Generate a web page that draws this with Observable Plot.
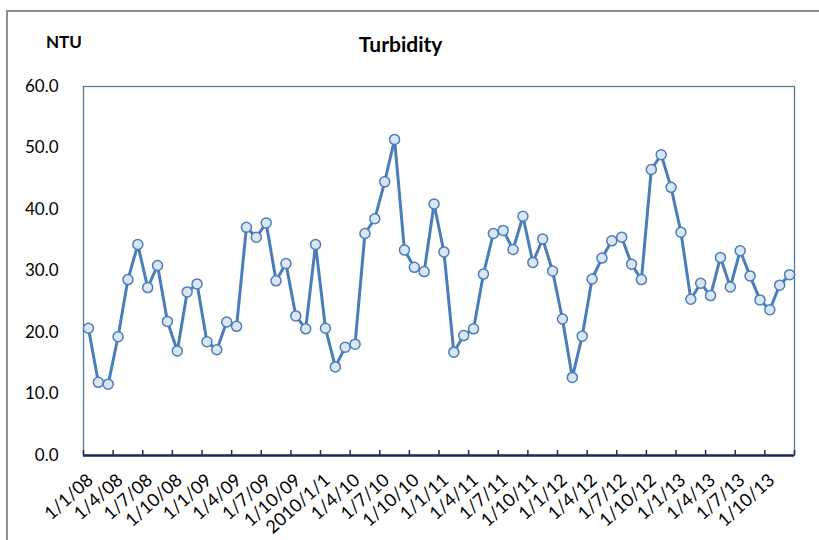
<!DOCTYPE html>
<html>
<head>
<meta charset="utf-8">
<script src="https://cdn.jsdelivr.net/npm/d3@7"></script>
<script src="https://cdn.jsdelivr.net/npm/@observablehq/plot@0.6"></script>
<style>
  html, body { margin: 0; padding: 0; background: #fff; overflow: hidden; }
  #wrap { position: relative; width: 819px; height: 540px; font-family: Lato, "Open Sans", sans-serif; }
  #border { position: absolute; left: 6px; top: 10px; width: 830px; height: 560px; border: 2px solid #8f8f8f; box-sizing: border-box; }
  #title { position: absolute; left: 0; width: 801px; top: 31px; text-align: center; font-weight: bold; font-size: 21px; color: #000; }
  #unit { position: absolute; left: 46px; top: 31px; font-weight: bold; font-size: 17px; color: #000; }
  #chart { position: absolute; left: 0; top: 0; }
</style>
</head>
<body>
<div id="wrap">
  <div id="border"></div>
  <div id="chart"></div>
  <div id="unit">NTU</div>
  <div id="title">Turbidity</div>
</div>
<script>
// Monthly turbidity (NTU), Jan 2008 – Dec 2013
const turbidity = [
  20.7, 11.9, 11.6, 19.3, 28.6, 34.3, 27.3, 30.9, 21.8, 17.0, 26.6, 27.9,
  18.5, 17.2, 21.7, 21.0, 37.1, 35.5, 37.8, 28.4, 31.2, 22.7, 20.6, 34.3,
  20.7, 14.4, 17.6, 18.1, 36.1, 38.5, 44.5, 51.4, 33.4, 30.6, 29.9, 40.9,
  33.1, 16.8, 19.5, 20.6, 29.5, 36.1, 36.6, 33.5, 38.9, 31.4, 35.2, 30.0,
  22.2, 12.7, 19.4, 28.7, 32.1, 34.9, 35.5, 31.1, 28.6, 46.5, 48.9, 43.6,
  36.3, 25.4, 28.0, 26.0, 32.2, 27.4, 33.3, 29.2, 25.3, 23.7, 27.7, 29.4
];
const xTickLabels = [
  "1/1/08", "1/4/08", "1/7/08", "1/10/08", "1/1/09", "1/4/09", "1/7/09", "1/10/09",
  "2010/1/1", "1/4/10", "1/7/10", "1/10/10", "1/1/11", "1/4/11", "1/7/11", "1/10/11",
  "1/1/12", "1/4/12", "1/7/12", "1/10/12", "1/1/13", "1/4/13", "1/7/13", "1/10/13"
];
const yTicks = [0, 10, 20, 30, 40, 50, 60];

const labelIdx = xTickLabels.map((_, k) => k * 3);
const boundaries = d3.range(0, turbidity.length + 1, 3).map(i => i - 0.5);
const data = turbidity.map((v, i) => ({i, v}));

const lineColor = "#4a7ebb";

const chart = Plot.plot({
  width: 819,
  height: 540,
  marginLeft: 83,
  marginRight: 25,
  marginTop: 86,
  marginBottom: 85,
  style: { fontFamily: "Lato, 'Open Sans', sans-serif", background: "transparent", color: "#000" },
  x: { type: "linear", domain: [-0.5, turbidity.length - 0.5] },
  y: { domain: [0, 60] },
  marks: [
    Plot.frame({ stroke: "#4f8095", strokeWidth: 1.3 }),
    Plot.axisY({ ticks: yTicks, tickFormat: d => d.toFixed(1), tickSize: 0, tickPadding: 25, fontSize: 17, label: null }),
    Plot.axisX({ ticks: boundaries, tickSize: -5, tickFormat: () => "", stroke: "#1b2a5e", strokeWidth: 1.5, label: null }),
    Plot.axisX({ ticks: labelIdx, tickSize: 0, tickPadding: 22, tickRotate: -42, fontSize: 18,
                 tickFormat: i => xTickLabels[i / 3], label: null, dx: 2 }),
    Plot.ruleY([0], { stroke: "#1b2a5e", strokeWidth: 2.5 }),
    Plot.line(data, { x: "i", y: "v", stroke: lineColor, strokeWidth: 3, strokeLinejoin: "round" }),
    Plot.dot(data, { x: "i", y: "v", r: 5, fill: "#dce6f2", stroke: lineColor, strokeWidth: 1.5 })
  ]
});
document.getElementById("chart").appendChild(chart);
</script>
</body>
</html>
